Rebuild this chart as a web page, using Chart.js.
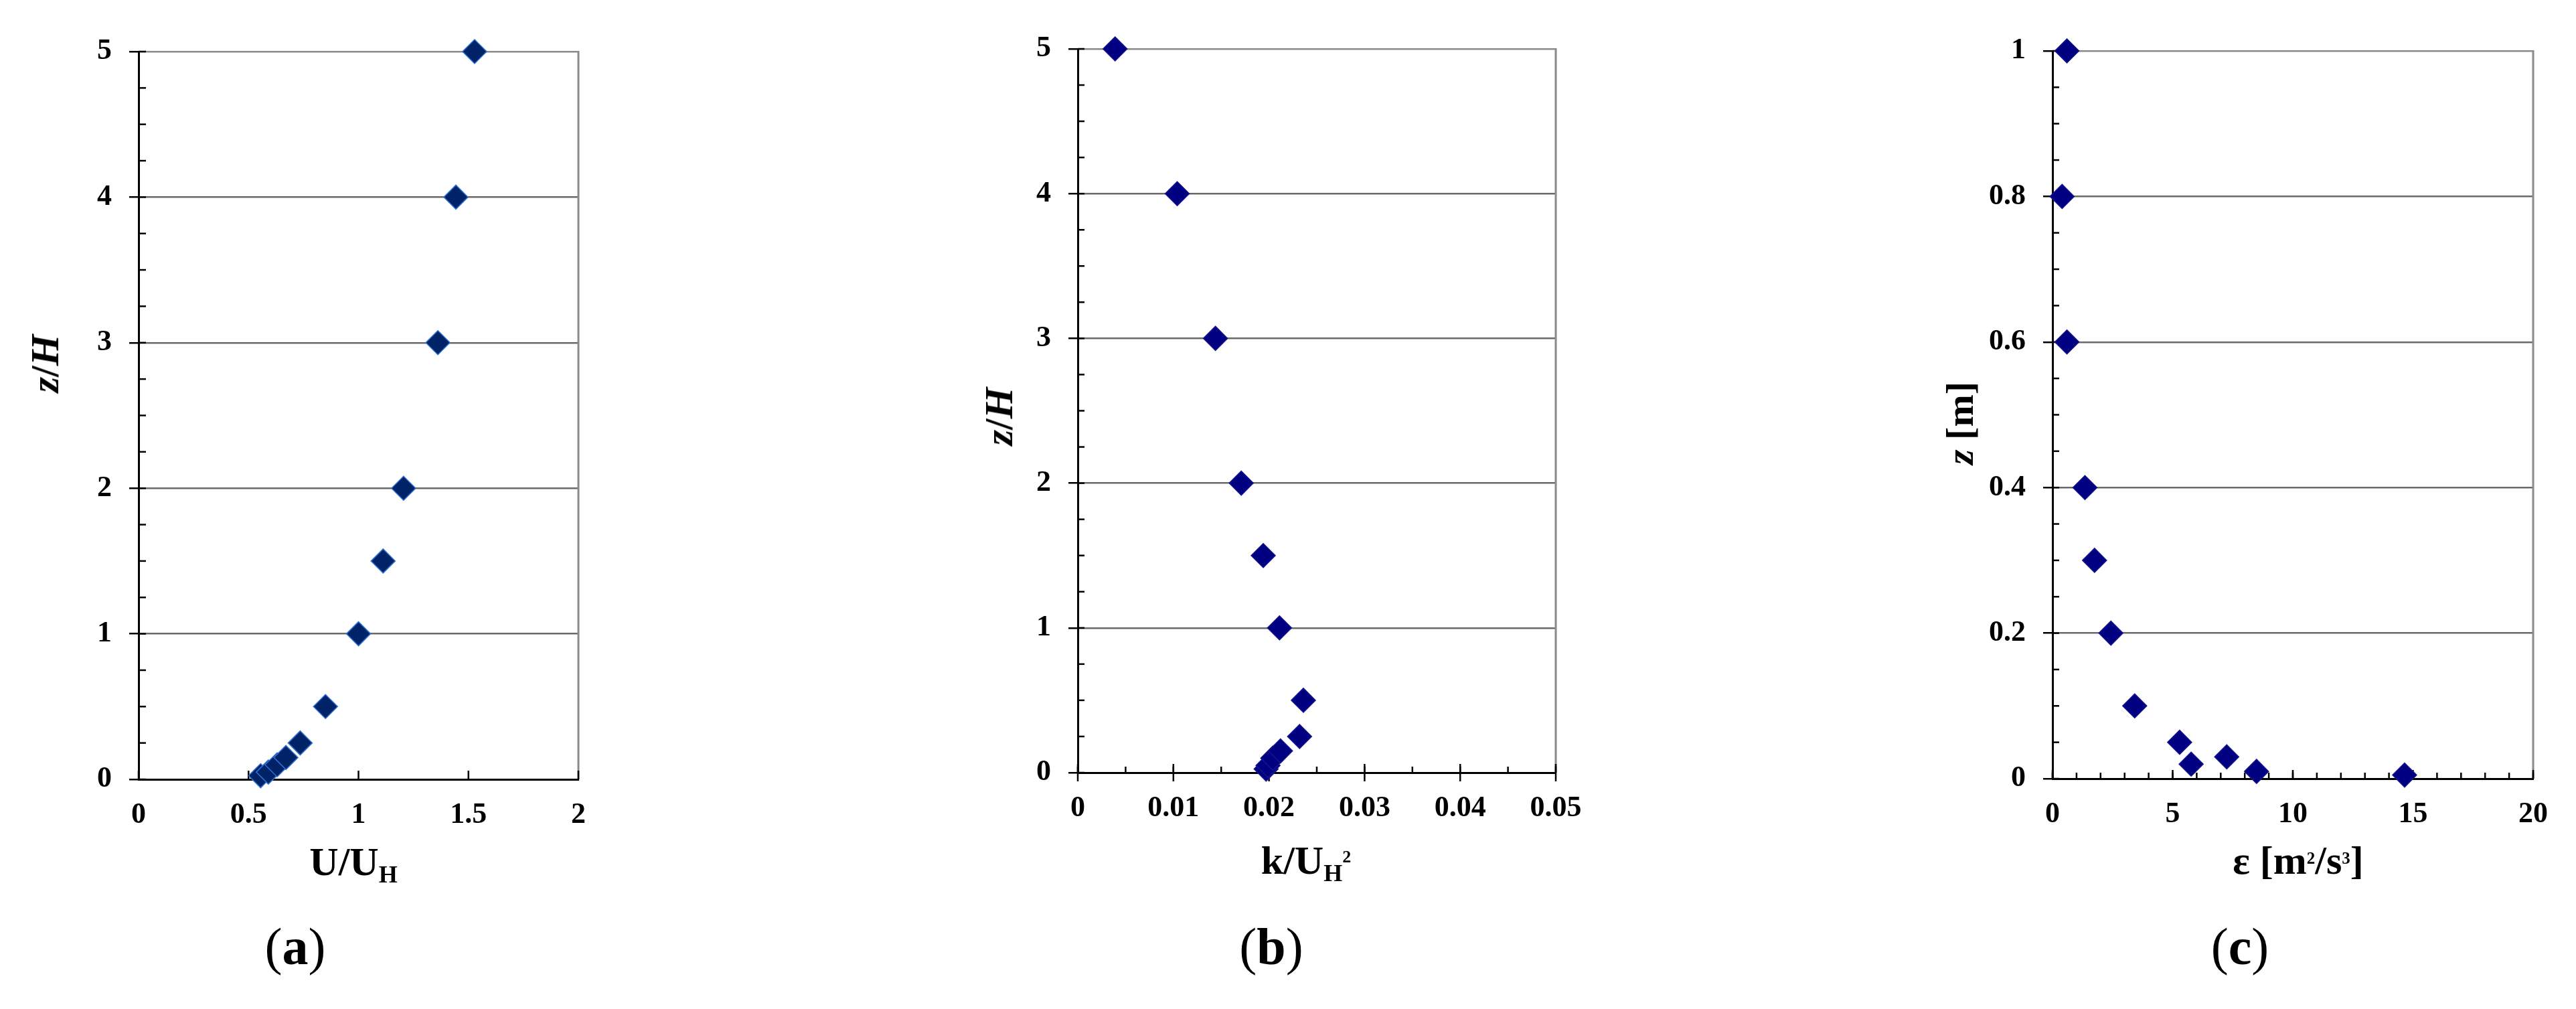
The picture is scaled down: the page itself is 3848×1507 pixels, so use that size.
<!DOCTYPE html>
<html>
<head>
<meta charset="utf-8">
<script src="https://cdn.jsdelivr.net/npm/chart.js@4.4.1/dist/chart.umd.min.js"></script>
<style>
html,body{margin:0;padding:0;background:#fff;}
body{width:3848px;height:1507px;position:relative;overflow:hidden;font-family:'Liberation Serif','Times New Roman',serif;color:#000;}
canvas{position:absolute;top:0;}
.t{position:absolute;font-weight:bold;font-size:60px;line-height:60px;white-space:nowrap;}
.sub{font-size:36px;vertical-align:-11px;line-height:0;}
.supb{font-size:26px;vertical-align:17px;line-height:0;}
.supc{font-size:25px;vertical-align:15px;line-height:0;}
.rot{transform:translate(-50%,-50%) rotate(-90deg);}
.lab{position:absolute;font-size:78px;line-height:78px;font-weight:normal;white-space:nowrap;transform:translateX(-50%);}
</style>
</head>
<body>
<canvas id="ca" width="1283" height="1507" style="left:0px"></canvas>
<canvas id="cb" width="1283" height="1507" style="left:1283px"></canvas>
<canvas id="cc" width="1282" height="1507" style="left:2566px"></canvas>

<div class="t" style="left:528px;top:1257px;transform:translateX(-50%);">U/U<span class="sub">H</span></div>
<div class="t" style="left:1951px;top:1255px;transform:translateX(-50%);">k/U<span class="sub">H</span><span class="supb">2</span></div>
<div class="t" style="left:3433px;top:1255px;transform:translateX(-50%);">ε [m<span class="supc">2</span>/s<span class="supc">3</span>]</div>

<div class="t rot" style="left:67px;top:543px;"><i>z</i>/<i>H</i></div>
<div class="t rot" style="left:1492px;top:622px;"><i>z</i>/<i>H</i></div>
<div class="t rot" style="left:2928px;top:632px;font-size:58px;"><i>z</i> [m]</div>

<div class="lab" style="left:441px;top:1375px;">(<b>a</b>)</div>
<div class="lab" style="left:1899px;top:1375px;">(<b>b</b>)</div>
<div class="lab" style="left:3346px;top:1375px;">(<b>c</b>)</div>

<script>
// ---------------- data ----------------
const zOverH   = [0.025, 0.05, 0.1, 0.15, 0.25, 0.5, 1, 1.5, 2, 3, 4, 5];
const uOverUH  = [0.555, 0.59, 0.63, 0.67, 0.735, 0.85, 1.0, 1.112, 1.205, 1.361, 1.443, 1.528];
const kOverUH2 = [0.0197, 0.0199, 0.0204, 0.0212, 0.0232, 0.0236, 0.0211, 0.0194, 0.0171, 0.0144, 0.0104, 0.0039];
const zMeters  = [0.005, 0.01, 0.02, 0.03, 0.05, 0.1, 0.2, 0.3, 0.4, 0.6, 0.8, 1.0];
const epsilon  = [14.65, 8.49, 5.77, 7.25, 5.29, 3.42, 2.43, 1.75, 1.35, 0.6, 0.4, 0.6];

// axis ranges / tick steps
const axA = {xMin:0, xMax:2,    xStep:0.5,  xMinor:null,  yMin:0, yMax:5, yStep:1,   yMinor:0.25};
const axB = {xMin:0, xMax:0.05, xStep:0.01, xMinor:0.005, yMin:0, yMax:5, yStep:1,   yMinor:0.25};
const axC = {xMin:0, xMax:20,   xStep:5,    xMinor:1,     yMin:0, yMax:1, yStep:0.2, yMinor:0.05};

// ---------------- layout ----------------
const PAGE_H = 1507, YW = 120, XH = 120;
const tickFont = {family:"'Liberation Serif','Times New Roman',serif", size:44, weight:'bold'};
const fmt = (v) => String(Math.round(v * 10000) / 10000);

const innerTicks = {
  id:'innerTicks',
  beforeDatasetsDraw(chart, args, o){
    const {ctx, chartArea:{left,right,top,bottom}, scales:{x,y}} = chart;
    ctx.save();
    ctx.strokeStyle = '#8a8a8a'; ctx.lineWidth = 3;
    ctx.beginPath(); ctx.moveTo(right, top - 1); ctx.lineTo(right, bottom); ctx.stroke();
    ctx.strokeStyle = '#000'; ctx.lineWidth = 2.5;
    const line = (x1,y1,x2,y2)=>{ctx.beginPath();ctx.moveTo(x1,y1);ctx.lineTo(x2,y2);ctx.stroke();};
    const ax = o.ax;
    let n = Math.round((ax.yMax-ax.yMin)/ax.yMinor);
    for(let i=0;i<=n;i++){ const py = y.getPixelForValue(ax.yMin + i*ax.yMinor); line(left, py, left+o.yMinorLen, py); }
    if(ax.xMinor){
      n = Math.round((ax.xMax-ax.xMin)/ax.xMinor);
      for(let i=0;i<=n;i++){ const px = x.getPixelForValue(ax.xMin + i*ax.xMinor); line(px, bottom, px, bottom-o.xMinorLen); }
    }
    n = Math.round((ax.xMax-ax.xMin)/ax.xStep);
    for(let i=0;i<=n;i++){ const px = x.getPixelForValue(ax.xMin + i*ax.xStep); line(px, bottom-o.xMajorLen, px, bottom + (o.cross?o.xMajorLen:0)); }
    ctx.restore();
  }
};

function build(id, L, W, plot, ax, xs, ys, fill, edge, tickOpt){
  const pts = xs.map((v,i)=>({x:v, y:ys[i]}));
  new Chart(document.getElementById(id), {
    type:'scatter',
    data:{datasets:[{data:pts, pointStyle:'rectRot', pointRadius:18, pointHoverRadius:18,
      backgroundColor:fill, borderColor:edge, borderWidth:1.5, clip:false}]},
    options:{
      responsive:false, animation:false, events:[],
      layout:{padding:{left:plot.l - L - YW, right:(L+W) - plot.r, top:plot.t, bottom:PAGE_H - plot.b - XH}},
      plugins:{legend:{display:false}, tooltip:{enabled:false}, innerTicks:Object.assign({ax}, tickOpt)},
      scales:{
        x:{type:'linear', position:'bottom', min:ax.xMin, max:ax.xMax,
          ticks:{stepSize:ax.xStep, autoSkip:false, maxRotation:0, minRotation:0, padding:27, color:'#000', font:tickFont, callback:fmt},
          grid:{display:false, drawTicks:false},
          border:{display:true, color:'#000', width:3},
          afterFit(s){ s.height = XH; }},
        y:{type:'linear', position:'left', min:ax.yMin, max:ax.yMax,
          ticks:{stepSize:ax.yStep, autoSkip:false, padding:26, color:'#000', font:tickFont, callback:fmt},
          grid:{color:(c)=> (c.tick && Math.abs(c.tick.value - ax.yMin) < 1e-9) ? 'rgba(0,0,0,0)' :
                         ((c.tick && Math.abs(c.tick.value - ax.yMax) < 1e-9) ? '#8a8a8a' : '#6a6a6a'),
                lineWidth:2.5, tickColor:'#000', tickLength:14, tickWidth:2.5, drawTicks:true},
          border:{display:true, color:'#000', width:3},
          afterFit(s){ s.width = YW; }}
      }
    },
    plugins:[innerTicks]
  });
}

build('ca', 0, 1283, {l:207, r:864, t:77, b:1164}, axA, uOverUH, zOverH, '#002266', '#2e6fd1',
  {yMinorLen:11, xMinorLen:9, xMajorLen:13, cross:false});
build('cb', 1283, 1283, {l:1610, r:2324, t:73, b:1154}, axB, kOverUH2, zOverH, '#000080', '#14148f',
  {yMinorLen:10, xMinorLen:9, xMajorLen:13, cross:true});
build('cc', 2566, 1282, {l:3066, r:3784, t:76, b:1163}, axC, epsilon, zMeters, '#000080', '#14148f',
  {yMinorLen:10, xMinorLen:9, xMajorLen:13, cross:false});
</script>
</body>
</html>
